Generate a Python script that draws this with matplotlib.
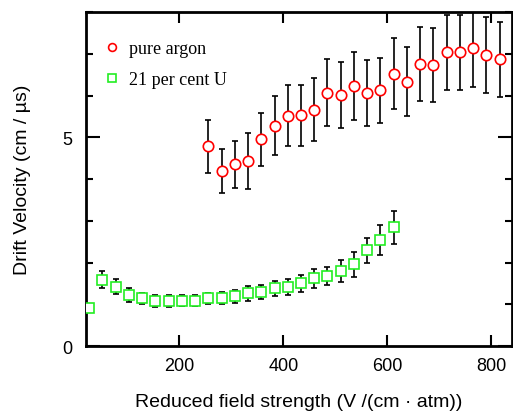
import matplotlib.pyplot as plt
from matplotlib.ticker import MultipleLocator

# pure argon
argon_e = [255, 281, 306, 332, 357, 383, 408, 434, 459, 484, 510, 535,
           560, 586, 612, 637, 662, 688, 714, 740, 765, 790, 816]
argon_v = [4.78, 4.19, 4.35, 4.43, 4.95, 5.28, 5.51, 5.53, 5.66, 6.07, 6.02, 6.22,
           6.06, 6.12, 6.52, 6.33, 6.75, 6.73, 7.03, 7.03, 7.14, 6.97, 6.87]
argon_err = [0.64, 0.53, 0.57, 0.67, 0.64, 0.70, 0.73, 0.73, 0.75, 0.80, 0.79, 0.81,
             0.80, 0.79, 0.85, 0.83, 0.88, 0.88, 0.90, 0.91, 0.93, 0.90, 0.90]

# 21 per cent U
mix_e = [26, 51, 77, 102, 128, 153, 179, 204, 230, 255, 281, 306,
         332, 357, 383, 408, 434, 459, 484, 510, 535, 560, 586, 612]
mix_v = [0.91, 1.59, 1.42, 1.22, 1.14, 1.08, 1.08, 1.09, 1.09, 1.14, 1.15, 1.19,
         1.26, 1.29, 1.38, 1.42, 1.50, 1.62, 1.68, 1.79, 1.96, 2.29, 2.55, 2.84]
mix_err = [0.0, 0.21, 0.18, 0.17, 0.14, 0.14, 0.14, 0.14, 0.14, 0.14, 0.14, 0.16,
           0.17, 0.17, 0.18, 0.19, 0.20, 0.22, 0.22, 0.26, 0.30, 0.30, 0.36, 0.40]

plt.rcParams['font.family'] = ['Liberation Sans', 'DejaVu Sans']

fig = plt.figure(figsize=(5.13, 4.14), dpi=100)
ax = fig.add_axes([0.1676, 0.1618, 0.8304, 0.8068])

# error bars first, markers on top
ax.errorbar(argon_e, argon_v, yerr=argon_err, fmt='none', ecolor='black',
            elinewidth=1.2, capsize=2, capthick=1.2, zorder=2)
ax.errorbar(mix_e, mix_v, yerr=mix_err, fmt='none', ecolor='black',
            elinewidth=1.2, capsize=2, capthick=1.2, zorder=2)
ax.plot(argon_e, argon_v, 'o', ms=7.5, mfc='white', mec='red', mew=1.2,
        label='pure argon', zorder=3)
ax.plot(mix_e, mix_v, 's', ms=7.5, mfc='white', mec='#22ee22', mew=1.2,
        label='21 per cent U', zorder=3)

ax.set_xlim(20, 840)
ax.set_ylim(0, 8)
ax.xaxis.set_major_locator(MultipleLocator(200))
ax.yaxis.set_major_locator(MultipleLocator(5))
ax.yaxis.set_minor_locator(MultipleLocator(1))
ax.tick_params(which='both', direction='in', top=True, right=True,
               labelsize=13, width=1.5, colors='black')
ax.tick_params(which='major', axis='y', length=10, pad=10)
ax.tick_params(which='major', axis='x', length=8, pad=8)
ax.tick_params(which='minor', length=5)
for s in ax.spines.values():
    s.set_linewidth(2)

ax.set_xlabel('Reduced field strength (V /(cm · atm))', fontsize=14, labelpad=13.5)
ax.set_ylabel('Drift Velocity (cm / µs)', fontsize=14, labelpad=22)

leg = ax.legend(loc='upper left', frameon=False, handletextpad=0.3,
                prop={'family': 'Liberation Serif', 'size': 13},
                bbox_to_anchor=(-0.005, 0.965), handlelength=1.3,
                labelspacing=0.78, markerscale=0.75)

fig.savefig('out.png', dpi=100)
